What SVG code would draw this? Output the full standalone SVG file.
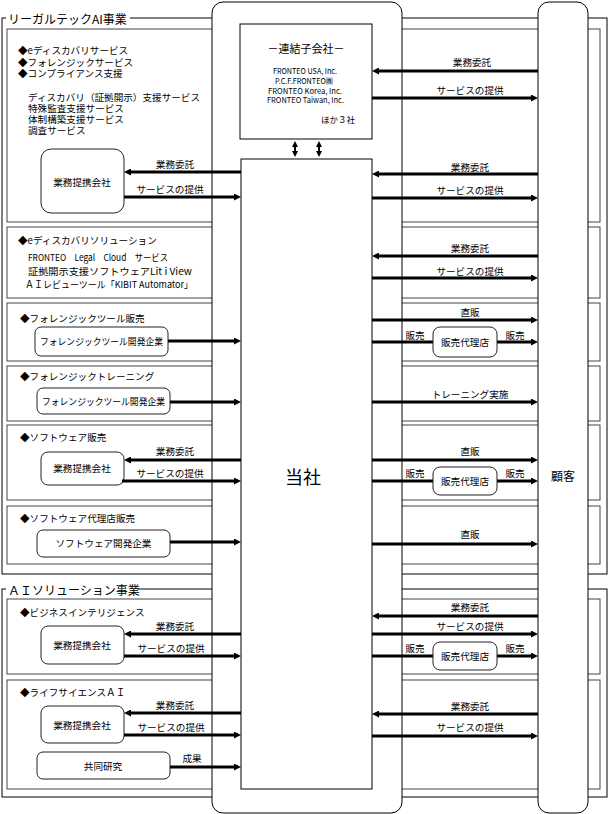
<svg xmlns="http://www.w3.org/2000/svg" width="610" height="814" viewBox="0 0 610 814">
<style>
text{font-family:"Noto Sans CJK JP","Noto Sans CJK SC",sans-serif;font-size:9.6px;fill:#000;dominant-baseline:central}
.outer{fill:none;stroke:#000;stroke-width:1}
.sec{fill:none;stroke:#444;stroke-width:1}
.col{fill:#fff;stroke:#000;stroke-width:1}
.box{fill:#fff;stroke:#000;stroke-width:1}
.rbox{fill:#fff;stroke:#222;stroke-width:1}
.arr{stroke:#000;stroke-width:3;fill:none;marker-end:url(#ah)}
.darr{stroke:#000;stroke-width:2;fill:none;marker-end:url(#ah2);marker-start:url(#ah2)}
.m{text-anchor:middle}
.hd{font-size:12px}
.sm{font-size:8px}
</style>
<defs>
<marker id="ah" viewBox="0 0 7 7" refX="1" refY="3.5" markerWidth="7" markerHeight="7" markerUnits="userSpaceOnUse" orient="auto"><path d="M0,0 L7,3.5 L0,7 z" fill="#000"/></marker>
<marker id="ah2" viewBox="0 0 6 6" refX="1" refY="3" markerWidth="6" markerHeight="6" markerUnits="userSpaceOnUse" orient="auto-start-reverse"><path d="M0,0 L6,3 L0,6 z" fill="#000"/></marker>
</defs>

<g id="frames">
<rect class="outer" x="2" y="18" width="605" height="556"/>
<rect class="outer" x="2" y="589" width="605" height="208"/>
<rect class="sec" x="7" y="29" width="593" height="193"/>
<rect class="sec" x="7" y="227" width="593" height="71"/>
<rect class="sec" x="7" y="303" width="593" height="58"/>
<rect class="sec" x="7" y="366" width="593" height="55"/>
<rect class="sec" x="7" y="425" width="593" height="75"/>
<rect class="sec" x="7" y="506" width="593" height="58"/>
<rect class="sec" x="7" y="599" width="593" height="75"/>
<rect class="sec" x="7" y="680" width="593" height="109"/>
<rect x="6" y="10" width="124" height="16" fill="#fff"/>
<text class="hd" x="8" y="18">リーガルテックAI事業</text>
<rect x="6" y="581" width="131" height="16" fill="#fff"/>
<text class="hd" x="8" y="589" font-size="11.5">ＡＩソリューション事業</text>
</g>

<g id="column-tousha"><rect class="col" x="212" y="2" width="190" height="811" rx="11"/></g>
<g id="column-kokyaku"><rect class="col" x="538" y="2" width="50" height="811" rx="11"/>
<text class="m" x="563" y="475" style="font-size:12px">顧客</text></g>

<g id="subsidiaries">
<rect class="box" x="240" y="24" width="132" height="115"/>
<text class="m" x="306" y="48" style="font-size:11px">－連結子会社－</text>
<text class="m sm" x="305" y="70" textLength="64" lengthAdjust="spacingAndGlyphs">FRONTEO USA, Inc.</text>
<text class="m sm" x="304" y="80" textLength="58" lengthAdjust="spacingAndGlyphs">P.C.F.FRONTEO㈱</text>
<text class="m sm" x="305" y="90" textLength="74" lengthAdjust="spacingAndGlyphs">FRONTEO Korea, Inc.</text>
<text class="m sm" x="305.5" y="99" textLength="77" lengthAdjust="spacingAndGlyphs">FRONTEO Taiwan, Inc.</text>
<text class="m" x="338" y="119" style="font-size:8.5px">ほか３社</text>
</g>

<g id="tousha"><rect class="box" x="241" y="159" width="131" height="630"/>
<text class="m" x="303" y="476" style="font-size:18px">当社</text></g>

<g id="sec1">
<text x="18" y="50">◆eディスカバリサービス</text>
<text x="18" y="62">◆フォレンジックサービス</text>
<text x="18" y="73">◆コンプライアンス支援</text>
<text x="28" y="97">ディスカバリ（証拠開示）支援サービス</text>
<text x="28" y="108">特殊監査支援サービス</text>
<text x="28" y="119">体制構築支援サービス</text>
<text x="28" y="130">調査サービス</text>
<rect class="rbox" x="41" y="149" width="83" height="64" rx="10"/>
<text class="m" x="82" y="182">業務提携会社</text>
</g>
<g id="sec2">
<text x="18" y="240">◆eディスカバリソリューション</text>
<text x="28" y="257" textLength="140" lengthAdjust="spacingAndGlyphs">FRONTEO　Legal　Cloud　サービス</text>
<text x="28" y="271" textLength="164" lengthAdjust="spacingAndGlyphs">証拠開示支援ソフトウェアLit i View</text>
<text x="25" y="284" textLength="168" lengthAdjust="spacingAndGlyphs">ＡＩレビューツール「KIBIT Automator」</text>
</g>
<g id="sec3">
<text x="20" y="318">◆フォレンジックツール販売</text>
<rect class="rbox" x="35" y="327" width="133" height="29" rx="6"/>
<text class="m" x="101.5" y="341" textLength="123" lengthAdjust="spacingAndGlyphs">フォレンジックツール開発企業</text>
</g>
<g id="sec4">
<text x="20" y="376">◆フォレンジックトレーニング</text>
<rect class="rbox" x="37" y="388" width="133" height="26" rx="6"/>
<text class="m" x="103.5" y="401" textLength="123" lengthAdjust="spacingAndGlyphs">フォレンジックツール開発企業</text>
</g>
<g id="sec5">
<text x="20" y="437">◆ソフトウェア販売</text>
<rect class="rbox" x="41" y="452" width="83" height="33" rx="7"/>
<text class="m" x="82" y="468">業務提携会社</text>
</g>
<g id="sec6">
<text x="20" y="518">◆ソフトウェア代理店販売</text>
<rect class="rbox" x="37" y="530" width="133" height="27" rx="6"/>
<text class="m" x="103.5" y="543">ソフトウェア開発企業</text>
</g>
<g id="sec7">
<text x="20" y="612">◆ビジネスインテリジェンス</text>
<rect class="rbox" x="41" y="626" width="83" height="38" rx="7"/>
<text class="m" x="82" y="645">業務提携会社</text>
</g>
<g id="sec8">
<text x="20" y="692">◆ライフサイエンスＡＩ</text>
<rect class="rbox" x="41" y="706" width="83" height="37" rx="7"/>
<text class="m" x="82" y="725">業務提携会社</text>
<rect class="rbox" x="37" y="752" width="133" height="27" rx="6"/>
<text class="m" x="103" y="766">共同研究</text>
</g>

<g id="connectors">
<line class="darr" x1="295" y1="146" x2="295" y2="152"/>
<line class="darr" x1="319" y1="146" x2="319" y2="152"/>
<!-- top right -->
<line class="arr" x1="538" y1="71" x2="378" y2="71"/>
<line class="arr" x1="372" y1="98" x2="532" y2="98"/>
<!-- sec1 -->
<line class="arr" x1="241" y1="172" x2="130" y2="172"/>
<line class="arr" x1="124" y1="197" x2="235" y2="197"/>
<line class="arr" x1="538" y1="174" x2="378" y2="174"/>
<line class="arr" x1="372" y1="198" x2="532" y2="198"/>
<!-- sec2 -->
<line class="arr" x1="538" y1="256" x2="378" y2="256"/>
<line class="arr" x1="372" y1="278" x2="532" y2="278"/>
<!-- sec3 -->
<line class="arr" x1="168" y1="341" x2="235" y2="341"/>
<line class="arr" x1="372" y1="320" x2="532" y2="320"/>
<line class="arr" x1="372" y1="342" x2="532" y2="342"/>
<!-- sec4 -->
<line class="arr" x1="170" y1="402" x2="235" y2="402"/>
<line class="arr" x1="372" y1="402" x2="532" y2="402"/>
<!-- sec5 -->
<line class="arr" x1="241" y1="460" x2="130" y2="460"/>
<line class="arr" x1="122" y1="481" x2="235" y2="481"/>
<line class="arr" x1="372" y1="460" x2="532" y2="460"/>
<line class="arr" x1="372" y1="481" x2="532" y2="481"/>
<!-- sec6 -->
<line class="arr" x1="170" y1="542" x2="235" y2="542"/>
<line class="arr" x1="372" y1="544" x2="532" y2="544"/>
<!-- sec7 -->
<line class="arr" x1="241" y1="634" x2="130" y2="634"/>
<line class="arr" x1="124" y1="656" x2="235" y2="656"/>
<line class="arr" x1="538" y1="616" x2="378" y2="616"/>
<line class="arr" x1="372" y1="634" x2="532" y2="634"/>
<line class="arr" x1="372" y1="656" x2="532" y2="656"/>
<!-- sec8 -->
<line class="arr" x1="241" y1="713" x2="130" y2="713"/>
<line class="arr" x1="124" y1="735" x2="235" y2="735"/>
<line class="arr" x1="170" y1="767" x2="235" y2="767"/>
<line class="arr" x1="538" y1="714" x2="378" y2="714"/>
<line class="arr" x1="372" y1="736" x2="532" y2="736"/>
</g>

<g id="agents">
<rect class="rbox" x="433" y="327" width="64" height="30" rx="7"/>
<text class="m" x="465" y="342">販売代理店</text>
<rect class="rbox" x="433" y="467" width="64" height="28" rx="7"/>
<text class="m" x="465" y="481">販売代理店</text>
<rect class="rbox" x="433" y="642" width="64" height="28" rx="7"/>
<text class="m" x="465" y="656">販売代理店</text>
</g>

<g id="labels">
<text class="m" x="472" y="62">業務委託</text>
<text class="m" x="470" y="90">サービスの提供</text>
<text class="m" x="175" y="164">業務委託</text>
<text class="m" x="170" y="189">サービスの提供</text>
<text class="m" x="470" y="167">業務委託</text>
<text class="m" x="470" y="190">サービスの提供</text>
<text class="m" x="470" y="248">業務委託</text>
<text class="m" x="470" y="271">サービスの提供</text>
<text class="m" x="470" y="312">直販</text>
<text class="m" x="415" y="335">販売</text>
<text class="m" x="515" y="335">販売</text>
<text class="m" x="470" y="394">トレーニング実施</text>
<text class="m" x="175" y="451">業務委託</text>
<text class="m" x="170" y="473">サービスの提供</text>
<text class="m" x="470" y="451">直販</text>
<text class="m" x="415" y="473">販売</text>
<text class="m" x="515" y="473">販売</text>
<text class="m" x="470" y="534">直販</text>
<text class="m" x="175" y="626">業務委託</text>
<text class="m" x="171" y="648">サービスの提供</text>
<text class="m" x="470" y="607">業務委託</text>
<text class="m" x="470" y="626">サービスの提供</text>
<text class="m" x="415" y="648">販売</text>
<text class="m" x="515" y="648">販売</text>
<text class="m" x="175" y="705">業務委託</text>
<text class="m" x="171" y="727">サービスの提供</text>
<text class="m" x="192" y="758">成果</text>
<text class="m" x="470" y="706">業務委託</text>
<text class="m" x="470" y="727">サービスの提供</text>
</g>
</svg>
